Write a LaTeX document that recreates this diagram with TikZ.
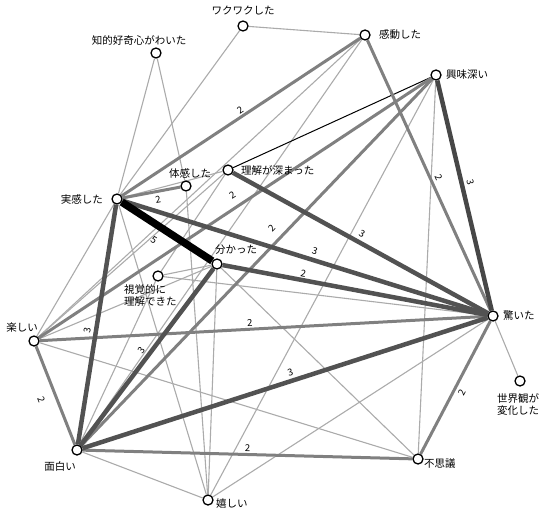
\documentclass[tikz,border=0pt]{standalone}
\usepackage{fontspec}
\setmainfont{Noto Sans CJK JP}
\usetikzlibrary{backgrounds}
\begin{document}
\begin{tikzpicture}[x=1pt,y=-1pt,
  vtx/.style={circle,draw=black,fill=white,line width=1.3pt,minimum size=10pt,inner sep=0pt},
  lab/.style={font=\fontsize{10.5}{12}\selectfont,inner sep=1pt},
  wone/.style={draw=black!33,line width=1.1pt},
  wblk/.style={draw=black,line width=1pt},
  wtwo/.style={draw=black!50,line width=3pt},
  wthree/.style={draw=black!68,line width=4.5pt},
  wfive/.style={draw=black,line width=7.5pt},
  elab/.style={sloped,font=\fontsize{9.5}{10}\selectfont,inner sep=3pt,text=black}
]
\useasboundingbox (0,0) rectangle (540,508);
% vertices
\node[vtx] (waku) at (243,26) {};
\node[vtx] (chiteki) at (156,53) {};
\node[vtx] (kandou) at (365,35) {};
\node[vtx] (kyoumi) at (436,75) {};
\node[vtx] (rikai) at (228,170) {};
\node[vtx] (taikan) at (186,186) {};
\node[vtx] (jikkan) at (117,199) {};
\node[vtx] (wakatta) at (217,264) {};
\node[vtx] (shikaku) at (158,276) {};
\node[vtx] (tanoshii) at (34,341) {};
\node[vtx] (odoroita) at (493,316) {};
\node[vtx] (sekai) at (520,381) {};
\node[vtx] (omoshiroi) at (77,450) {};
\node[vtx] (fushigi) at (418,459) {};
\node[vtx] (ureshii) at (208,500) {};
% labels
\node[lab] at (243,11) {ワクワクした};
\node[lab] at (139,40) {知的好奇心がわいた};
\node[lab,anchor=west] at (378,35) {感動した};
\node[lab,anchor=west] at (445,75) {興味深い};
\node[lab,anchor=west] at (240,170) {理解が深まった};
\node[lab] at (190,173) {体感した};
\node[lab,anchor=east] at (104,199) {実感した};
\node[lab] at (236,250) {分かった};
\node[lab,align=left,anchor=west] at (123,295) {視覚的に\\理解できた};
\node[lab] at (22,327) {楽しい};
\node[lab,anchor=west] at (502,316) {驚いた};
\node[lab,align=left,anchor=north west] at (496,392) {世界観が\\変化した};
\node[lab] at (60,466) {面白い};
\node[lab,anchor=west] at (423,464) {不思議};
\node[lab,anchor=west] at (215,504) {嬉しい};
\begin{pgfonlayer}{background}
% weight 1 edges
\draw[wone] (waku) -- (kandou);
\draw[wone] (jikkan) -- (waku);
\draw[wone] (jikkan) -- (chiteki);
\draw[wone] (chiteki) -- (taikan);
\draw[wone] (taikan) -- (ureshii);
\draw[wone] (tanoshii) -- (kandou);
\draw[wone] (omoshiroi) -- (kandou);
\draw[wone] (shikaku) -- (rikai);
\draw[wone] (tanoshii) -- (rikai);
\draw[wone] (shikaku) -- (wakatta);
\draw[wone] (shikaku) -- (odoroita);
\draw[wone] (omoshiroi) -- (shikaku);
\draw[wone] (tanoshii) -- (wakatta);
\draw[wone] (tanoshii) -- (jikkan);
\draw[wone] (tanoshii) -- (fushigi);
\draw[wone] (wakatta) -- (fushigi);
\draw[wone] (wakatta) -- (ureshii);
\draw[wone] (jikkan) -- (ureshii);
\draw[wone] (ureshii) -- (kyoumi);
\draw[wone] (fushigi) -- (kyoumi);
\draw[wone] (ureshii) -- (odoroita);
\draw[wone] (odoroita) -- (sekai);
\draw[wone] (omoshiroi) -- (ureshii);
\draw[wone] (jikkan) -- (rikai);
\draw[wblk] (rikai) -- (kyoumi);
% weight 2 edges
\draw[wtwo] (jikkan) -- node[elab,pos=0.59,below] {2} (taikan);
\draw[wtwo] (jikkan) -- node[elab,pos=0.51,above,inner sep=1pt] {2} (kandou);
\draw[wtwo] (kandou) -- node[elab,pos=0.52,above] {2} (odoroita);
\draw[wtwo] (tanoshii) -- node[elab,pos=0.47,above,inner sep=1pt] {2} (odoroita);
\draw[wtwo] (tanoshii) -- node[elab,pos=0.49,below=7pt] {2} (omoshiroi);
\draw[wtwo] (omoshiroi) -- node[elab,pos=0.5,above,inner sep=1pt] {2} (fushigi);
\draw[wtwo] (fushigi) -- node[elab,pos=0.49,below] {2} (odoroita);
\draw[wtwo] (tanoshii) -- node[elab,pos=0.51,above=4pt] {2} (kyoumi);
\draw[wtwo] (omoshiroi) -- node[elab,pos=0.57,above=5pt] {2} (kyoumi);
% weight 3 edges
\draw[wthree] (wakatta) -- node[elab,pos=0.30,above,inner sep=1pt] {2} (odoroita);
\draw[wthree] (jikkan) -- node[elab,pos=0.52,above] {3} (odoroita);
\draw[wthree] (omoshiroi) -- node[elab,pos=0.47,above] {3} (jikkan);
\draw[wthree] (omoshiroi) -- node[elab,pos=0.51,above] {3} (wakatta);
\draw[wthree] (rikai) -- node[elab,pos=0.49,above] {3} (odoroita);
\draw[wthree,draw=black!72] (kyoumi) -- node[elab,pos=0.45,above] {3} (odoroita);
\draw[wthree] (omoshiroi) -- node[elab,pos=0.52,above] {3} (odoroita);
% weight 5
\draw[wfive] (jikkan) -- node[elab,pos=0.44,below=4pt] {5} (wakatta);
\end{pgfonlayer}
\end{tikzpicture}
\end{document}
